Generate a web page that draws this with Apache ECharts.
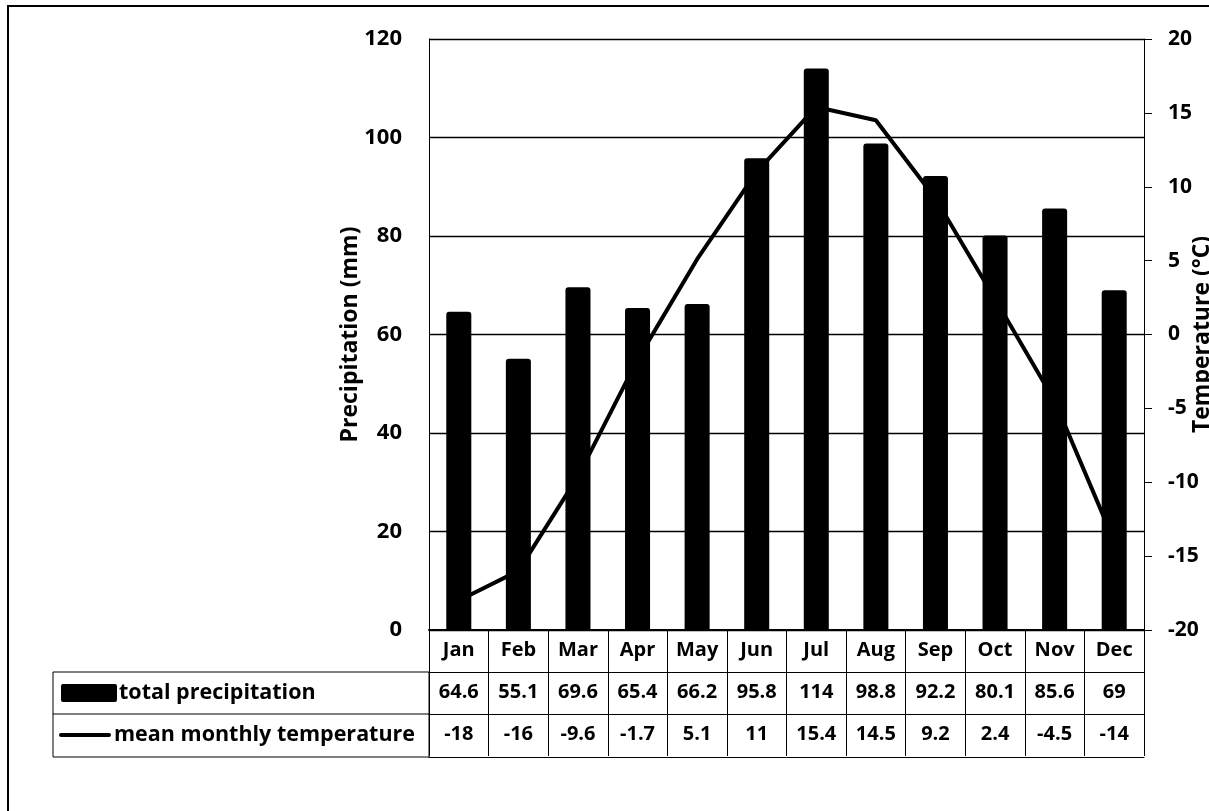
<!DOCTYPE html>
<html>
<head>
<meta charset="utf-8">
<script src="https://cdn.jsdelivr.net/npm/echarts@6/dist/echarts.min.js"></script>
<style>
  html, body { margin: 0; padding: 0; background: #fff; }
  #chart { width: 1209px; height: 811px; }
</style>
</head>
<body>
<div id="chart"></div>
<script>
// data
const months = ['Jan', 'Feb', 'Mar', 'Apr', 'May', 'Jun', 'Jul', 'Aug', 'Sep', 'Oct', 'Nov', 'Dec'];
const precipitation = [64.6, 55.1, 69.6, 65.4, 66.2, 95.8, 114, 98.8, 92.2, 80.1, 85.6, 69];
const temperature = [-18, -16, -9.6, -1.7, 5.1, 11, 15.4, 14.5, 9.2, 2.4, -4.5, -14];
const precipLabel = 'total precipitation';
const tempLabel = 'mean monthly temperature';

const FONT = '"Open Sans", "DejaVu Sans", sans-serif';
const ROW = 42;

// one category axis per table row, stacked below the plot with offsets
function tableAxis(offset, formatter, showLabel) {
  return {
    type: 'category',
    data: months,
    gridIndex: 0,
    position: 'bottom',
    offset: offset,
    boundaryGap: true,
    axisLine: { show: true, onZero: false, lineStyle: { color: '#000', width: 1 } },
    axisTick: { show: showLabel, interval: 0, alignWithLabel: false, length: ROW, lineStyle: { color: '#000', width: 1 } },
    axisLabel: {
      show: showLabel,
      interval: 0,
      margin: 10,
      color: '#000',
      fontFamily: FONT,
      fontWeight: 'bold',
      fontSize: 20,
      formatter: formatter
    },
    splitLine: { show: false }
  };
}

const chart = echarts.init(document.getElementById('chart'));

const monthAxis = tableAxis(0, (v) => v, true);
monthAxis.axisLine.lineStyle.width = 2;

const option = {
  animation: false,
  backgroundColor: '#fff',
  grid: { left: 429, right: 65, top: 39, bottom: 181, containLabel: false, outerBoundsMode: 'none' },
  xAxis: [
    monthAxis,
    tableAxis(ROW, (v, i) => String(precipitation[i]), true),
    tableAxis(ROW * 2, (v, i) => String(temperature[i]), true),
    tableAxis(ROW * 3 + 1, () => '', false)
  ],
  yAxis: [
    {
      type: 'value',
      min: 0,
      max: 120,
      interval: 20,
      name: 'Precipitation (mm)',
      nameLocation: 'middle',
      nameGap: 67,
      nameRotate: 90,
      nameMoveOverlap: false,
      nameTextStyle: { color: '#000', fontFamily: FONT, fontWeight: 'bold', fontSize: 23 },
      axisLine: { show: true, lineStyle: { color: '#000', width: 1 } },
      axisTick: { show: false },
      axisLabel: { color: '#000', fontFamily: FONT, fontWeight: 'bold', fontSize: 22, margin: 27 },
      splitLine: { show: true, lineStyle: { color: '#000', width: 1.3 } }
    },
    {
      type: 'value',
      min: -20,
      max: 20,
      interval: 5,
      position: 'right',
      name: 'Temperature (°C)',
      nameLocation: 'middle',
      nameGap: 47,
      nameRotate: 90,
      nameMoveOverlap: false,
      nameTextStyle: { color: '#000', fontFamily: FONT, fontWeight: 'bold', fontSize: 23 },
      axisLine: { show: true, onZero: false, lineStyle: { color: '#000', width: 1 } },
      axisTick: { show: true, inside: false, length: 8, lineStyle: { color: '#000' } },
      axisLabel: { color: '#000', fontFamily: FONT, fontWeight: 'bold', fontSize: 21, margin: 24, align: 'left' },
      splitLine: { show: false }
    }
  ],
  series: [
    {
      name: precipLabel,
      type: 'bar',
      xAxisIndex: 0,
      yAxisIndex: 0,
      data: precipitation,
      barWidth: '42%',
      itemStyle: { color: '#000', borderRadius: [3, 3, 0, 0] },
      z: 2
    },
    {
      name: tempLabel,
      type: 'line',
      xAxisIndex: 0,
      yAxisIndex: 1,
      data: temperature,
      symbol: 'none',
      lineStyle: { color: '#000', width: 4 },
      z: 3
    }
  ],
  graphic: [
    // outer frame
    { type: 'rect', shape: { x: 8, y: 6, width: 1215, height: 820 }, style: { fill: 'none', stroke: '#000', lineWidth: 2 }, silent: true },
    // row header cells of the data table
    { type: 'rect', shape: { x: 53, y: 672, width: 376, height: 85 }, style: { fill: 'none', stroke: '#000', lineWidth: 1 }, silent: true },
    { type: 'line', shape: { x1: 53, y1: 714, x2: 429, y2: 714 }, style: { stroke: '#000', lineWidth: 1 }, silent: true },
    // legend keys
    { type: 'rect', shape: { x: 61, y: 684, width: 56, height: 18, r: 2 }, style: { fill: '#000' }, silent: true },
    { type: 'text', x: 119, y: 693, style: { text: precipLabel, fill: '#000', font: 'bold 21.5px ' + FONT, verticalAlign: 'middle' }, silent: true },
    { type: 'line', shape: { x1: 61, y1: 735, x2: 109, y2: 735 }, style: { stroke: '#000', lineWidth: 4, lineCap: 'round' }, silent: true },
    { type: 'text', x: 114, y: 735, style: { text: tempLabel, fill: '#000', font: 'bold 21.5px ' + FONT, verticalAlign: 'middle' }, silent: true }
  ]
};

chart.setOption(option);
</script>
</body>
</html>
